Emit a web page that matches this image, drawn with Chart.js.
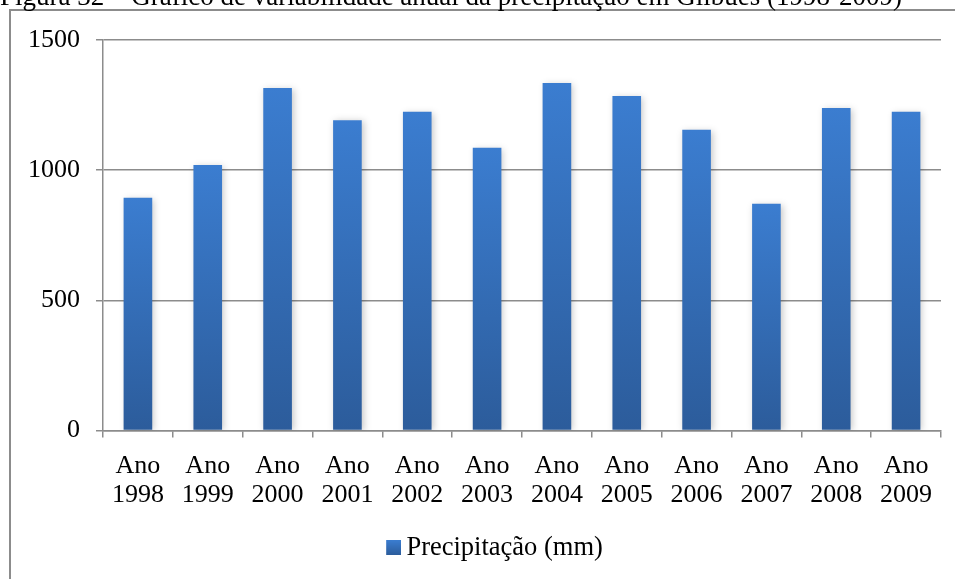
<!DOCTYPE html>
<html>
<head>
<meta charset="utf-8">
<script src="https://cdn.jsdelivr.net/npm/chart.js@4.4.1/dist/chart.umd.min.js"></script>
<style>
  html, body { margin: 0; padding: 0; background: #fff; overflow: hidden; }
  #wrap { position: relative; width: 955px; height: 579px; }
  #title { position: absolute; left: 0; top: -17px; font: 27px "Liberation Serif", "Times New Roman", serif; line-height: 27px; white-space: nowrap; color: #000; z-index: 2; }
  #box { position: absolute; left: 0; top: 0; width: 955px; height: 579px; }
</style>
</head>
<body>
<div id="wrap">
  <div id="title"></div>
  <div id="box"><canvas id="c"></canvas></div>
</div>
<script>
const titleText = "Figura 32 – Gráfico de variabilidade anual da precipitação em Gilbués (1998-2009)";
const categories = [["Ano","1998"],["Ano","1999"],["Ano","2000"],["Ano","2001"],["Ano","2002"],["Ano","2003"],["Ano","2004"],["Ano","2005"],["Ano","2006"],["Ano","2007"],["Ano","2008"],["Ano","2009"]];
const seriesName = "Precipitação (mm)";
const precipitation = [894, 1020, 1316, 1192, 1224, 1086, 1335, 1285, 1155, 871, 1239, 1224];
const yTicks = [0, 500, 1000, 1500];

document.getElementById('title').textContent = titleText;

const FONT = "'Liberation Serif', 'Times New Roman', serif";
const GRID = '#8c8c8c';
const TOP_COLOR = '#3b7dd0';
const BOTTOM_COLOR = '#2c5c9b';

function barGradient(ctx) {
  const chart = ctx.chart;
  if (ctx.type !== 'data' || !chart.chartArea) return '#3470bd';
  const y = chart.scales.y;
  const top = y.getPixelForValue(ctx.raw);
  const bottom = y.getPixelForValue(0);
  const g = chart.ctx.createLinearGradient(0, top, 0, bottom);
  g.addColorStop(0, TOP_COLOR);
  g.addColorStop(1, BOTTOM_COLOR);
  return g;
}

// legend marker: 15px gradient square placed on the right side of a wider transparent canvas
const marker = document.createElement('canvas');
marker.width = 31; marker.height = 15;
(function () {
  const m = marker.getContext('2d');
  const g = m.createLinearGradient(0, 0, 0, 15);
  g.addColorStop(0, TOP_COLOR);
  g.addColorStop(1, BOTTOM_COLOR);
  m.fillStyle = g;
  m.fillRect(16, 0, 15, 15);
})();

const framePlugin = {
  id: 'frame',
  afterDraw(chart) {
    const c = chart.ctx;
    c.save();
    c.strokeStyle = GRID;
    c.lineWidth = 2;
    c.strokeRect(10, 10, 2000, 2000);
    c.restore();
  }
};

const shadowPlugin = {
  id: 'barShadow',
  beforeDatasetDraw(chart) {
    const c = chart.ctx;
    c.save();
    c.shadowColor = 'rgba(0,0,0,0.22)';
    c.shadowBlur = 7;
    c.shadowOffsetX = 2;
    c.shadowOffsetY = 1;
  },
  afterDatasetDraw(chart) { chart.ctx.restore(); }
};

const legendShift = {
  id: 'legendShift',
  afterLayout(chart) {
    if (chart.legend) { chart.legend.left += 20; chart.legend.right += 20; }
  }
};

new Chart(document.getElementById('c'), {
  type: 'bar',
  data: {
    labels: categories,
    datasets: [{
      label: seriesName,
      data: precipitation,
      backgroundColor: barGradient,
      borderWidth: 0,
      categoryPercentage: 1,
      barPercentage: 0.41
    }]
  },
  options: {
    responsive: true,
    maintainAspectRatio: false,
    animation: false,
    devicePixelRatio: 1,
    layout: { padding: { left: 0, right: 14, top: 40, bottom: 8 } },
    plugins: {
      title: { display: false },
      tooltip: { enabled: false },
      legend: {
        position: 'bottom',
        labels: {
          font: { family: FONT, size: 26.5 },
          color: '#000',
          usePointStyle: true,
          pointStyleWidth: 15,
          boxWidth: 15,
          boxHeight: 15,
          padding: 10,
          generateLabels(chart) {
            return [{ text: seriesName, fillStyle: TOP_COLOR, strokeStyle: TOP_COLOR, lineWidth: 0, pointStyle: marker, datasetIndex: 0, hidden: false }];
          }
        }
      }
    },
    scales: {
      x: {
        grid: { display: true, drawOnChartArea: false, drawTicks: true, tickLength: 7, color: GRID, lineWidth: 1.5, offset: true },
        border: { display: true, color: GRID, width: 1.5 },
        ticks: { font: { family: FONT, size: 26, lineHeight: 1.115 }, color: '#000', padding: 14, maxRotation: 0, autoSkip: false },
        afterFit(scale) { scale.height = 94; }
      },
      y: {
        min: 0,
        max: 1500,
        afterBuildTicks(scale) { scale.ticks = yTicks.map(v => ({ value: v })); },
        grid: { color: GRID, lineWidth: 1.5, tickLength: 7, drawTicks: true },
        border: { display: true, color: GRID, width: 1.5 },
        ticks: { font: { family: FONT, size: 26 }, color: '#000', padding: 16, callback: v => String(v) },
        afterFit(scale) { scale.width = 103; }
      }
    }
  },
  plugins: [framePlugin, shadowPlugin, legendShift]
});
</script>
</body>
</html>
